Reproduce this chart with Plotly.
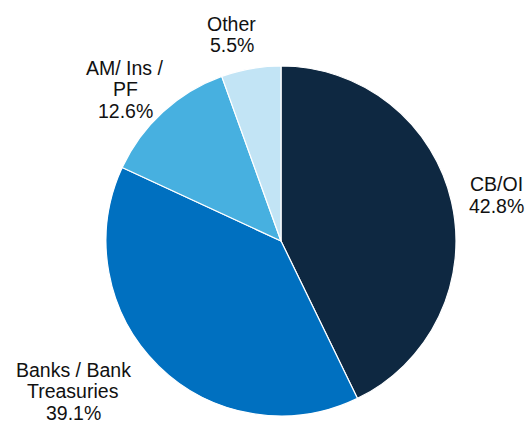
import plotly.graph_objects as go

labels = ["CB/OI", "Banks / Bank<br>Treasuries", "AM/ Ins /<br>PF", "Other"]
values = [42.8, 39.1, 12.6, 5.5]
colors = ["#0e2841", "#0070c0", "#47b0e0", "#c2e4f5"]
# label block centres (paper fraction)
label_x = [1.117, -0.093, 0.0543, 0.359]
label_y = [0.631, 0.071, 0.933, 1.090]
LINE_PITCH = 21.5  # px between text lines
FONT = dict(family="Liberation Sans, Arial, sans-serif", size=19.5, color="#111111")

fig = go.Figure(go.Pie(
    labels=labels,
    values=values,
    sort=False,
    direction="clockwise",
    rotation=0,
    marker=dict(colors=colors, line=dict(color="white", width=1.2)),
    textinfo="none",
    showlegend=False,
    hoverinfo="label+value",
))
for lab, v, x, y in zip(labels, values, label_x, label_y):
    lines = lab.split("<br>") + [f"{v:.1f}%"]
    n = len(lines)
    for i, line in enumerate(lines):
        fig.add_annotation(
            x=x, y=y, xref="paper", yref="paper",
            text=line, yshift=-(i - (n - 1) / 2) * LINE_PITCH,
            showarrow=False, xanchor="center", yanchor="middle", align="center",
            font=FONT,
        )
fig.update_layout(
    width=532, height=426,
    margin=dict(l=106, r=76, t=66, b=10),
    paper_bgcolor="white",
    plot_bgcolor="white",
)
fig.write_html("out.html", config={"displayModeBar": False},
               post_script="document.body.style.margin='0';document.body.style.overflow='hidden';")
